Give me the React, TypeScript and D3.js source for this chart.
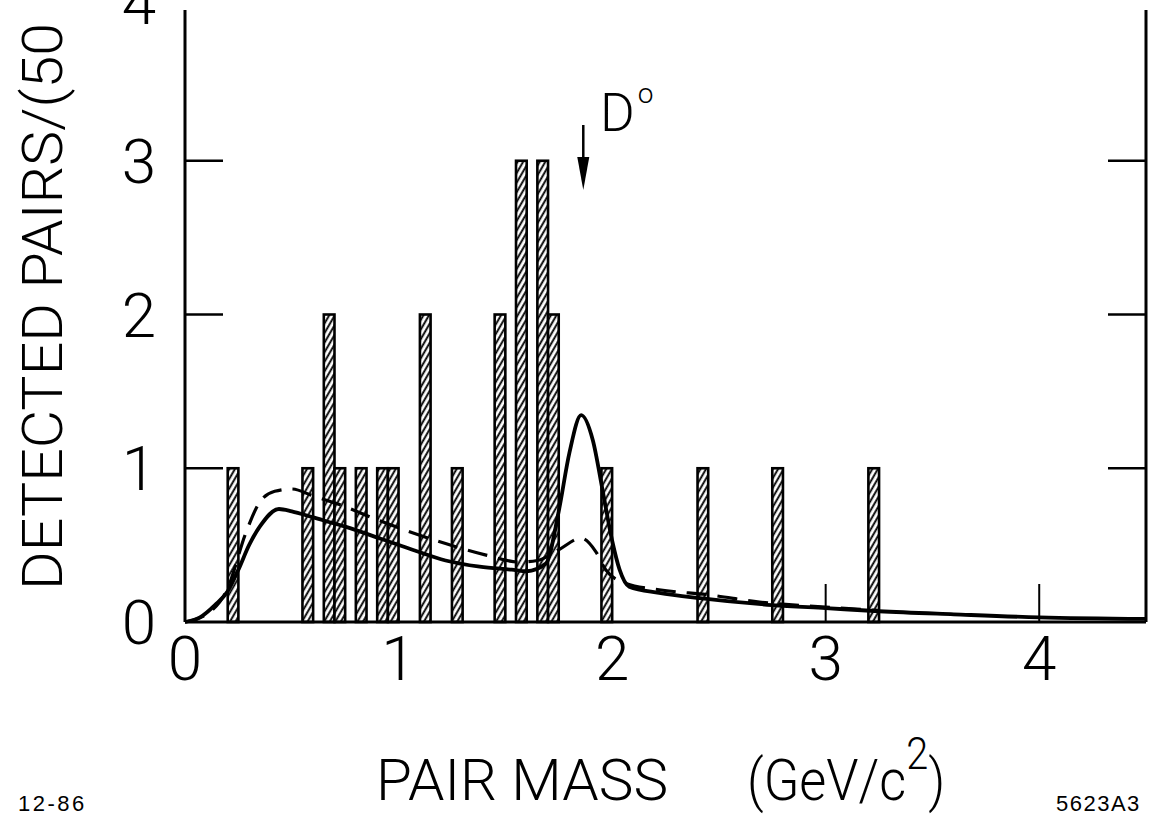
import { useEffect, useRef } from 'react'
import * as d3 from 'd3'

// histogram bins (lower edge in GeV/c^2, 50 MeV wide) and counts
const binStarts = [0.2, 0.55, 0.65, 0.7, 0.8, 0.9, 0.95, 1.1, 1.25, 1.45, 1.55, 1.65, 1.7, 1.95, 2.4, 2.75, 3.2]
const binCounts = [1, 1, 2, 1, 1, 1, 1, 2, 1, 2, 3, 3, 2, 1, 1, 1, 1]
const binWidth = 0.05

// solid curve (with D0 signal)
const solidMass = [0, 0.07, 0.14, 0.2, 0.25, 0.3, 0.35, 0.44, 0.5, 0.6, 0.75, 0.91, 1.065, 1.22, 1.38, 1.53, 1.6, 1.69, 1.75, 1.8, 1.855, 1.91, 1.955, 2.0, 2.035, 2.08, 2.22, 2.41, 2.75, 3.0, 3.25, 3.6, 4.0, 4.5]
const solidValue = [0, 0.03, 0.11, 0.2, 0.34, 0.5, 0.62, 0.735, 0.72, 0.68, 0.62, 0.545, 0.47, 0.4, 0.36, 0.34, 0.33, 0.38, 0.72, 1.1, 1.345, 1.18, 0.86, 0.53, 0.34, 0.23, 0.19, 0.155, 0.11, 0.09, 0.07, 0.05, 0.03, 0.02]

// dashed curve
const dashMass = [0, 0.1, 0.2, 0.285, 0.35, 0.42, 0.5, 0.6, 0.71, 0.91, 1.065, 1.22, 1.41, 1.565, 1.65, 1.75, 1.855, 1.925, 1.97, 2.065, 2.22, 2.46, 2.69, 3.0, 3.25]
const dashValue = [0, 0.05, 0.22, 0.58, 0.78, 0.85, 0.865, 0.82, 0.77, 0.66, 0.58, 0.51, 0.435, 0.39, 0.4, 0.47, 0.545, 0.455, 0.34, 0.25, 0.21, 0.175, 0.13, 0.097, 0.075]

const xTicks = [0, 1, 2, 3, 4]
const yTicks = [0, 1, 2, 3, 4]
const d0Mass = 1.865

export default function App() {
  const svgRef = useRef<SVGSVGElement>(null)

  useEffect(() => {
    if (!svgRef.current) return
    const svg = d3.select(svgRef.current)
    svg.selectAll('*').remove()

    const font = 'Roboto, "Liberation Sans", sans-serif'
    const plateFont = '"Liberation Sans", Arial, sans-serif'

    const x = d3.scaleLinear().domain([0, 4.5]).range([185, 1146])
    const y = d3.scaleLinear().domain([0, 4]).range([622, 7])

    // hatch pattern for the bars
    const defs = svg.append('defs')
    const pat = defs.append('pattern')
      .attr('id', 'hatch')
      .attr('patternUnits', 'userSpaceOnUse')
      .attr('width', 4.8)
      .attr('height', 10)
      .attr('patternTransform', 'rotate(30)')
    pat.append('rect').attr('width', 4.8).attr('height', 10).attr('fill', '#fff')
    pat.append('line')
      .attr('x1', 1.2).attr('y1', 0).attr('x2', 1.2).attr('y2', 10)
      .attr('stroke', '#000').attr('stroke-width', 1.9)

    const g = svg.append('g')

    // bars
    g.selectAll('rect.bar')
      .data(binStarts)
      .enter()
      .append('rect')
      .attr('class', 'bar')
      .attr('x', d => x(d))
      .attr('width', d => x(d + binWidth) - x(d))
      .attr('y', (d, i) => y(binCounts[i]))
      .attr('height', (d, i) => y(0) - y(binCounts[i]))
      .attr('fill', 'url(#hatch)')
      .attr('stroke', '#000')
      .attr('stroke-width', 2.6)

    // curves
    const line = d3.line<number>()
      .x(d => x(d))
      .curve(d3.curveMonotoneX)

    g.append('path')
      .attr('d', line.y((d, i) => y(dashValue[i]))(dashMass))
      .attr('fill', 'none')
      .attr('stroke', '#000')
      .attr('stroke-width', 3.2)
      .attr('stroke-dasharray', '20,11')

    g.append('path')
      .attr('d', line.y((d, i) => y(solidValue[i]))(solidMass))
      .attr('fill', 'none')
      .attr('stroke', '#000')
      .attr('stroke-width', 3.8)

    // frame
    const top = y(3.98)
    g.append('line').attr('x1', x(0)).attr('x2', x(0)).attr('y1', top).attr('y2', y(0))
      .attr('stroke', '#000').attr('stroke-width', 3)
    g.append('line').attr('x1', x(4.5)).attr('x2', x(4.5)).attr('y1', top).attr('y2', y(0))
      .attr('stroke', '#000').attr('stroke-width', 3)
    g.append('line').attr('x1', x(0)).attr('x2', x(4.5)).attr('y1', y(0)).attr('y2', y(0))
      .attr('stroke', '#000').attr('stroke-width', 3)

    // y ticks, inward on both sides
    yTicks.filter(t => t > 0 && t < 4).forEach(t => {
      g.append('line').attr('x1', x(0)).attr('x2', x(0) + 38).attr('y1', y(t)).attr('y2', y(t))
        .attr('stroke', '#000').attr('stroke-width', 2.5)
      g.append('line').attr('x1', x(4.5) - 38).attr('x2', x(4.5)).attr('y1', y(t)).attr('y2', y(t))
        .attr('stroke', '#000').attr('stroke-width', 2.5)
    })
    // x ticks, upward
    xTicks.filter(t => t > 0).forEach(t => {
      g.append('line').attr('x1', x(t)).attr('x2', x(t)).attr('y1', y(0)).attr('y2', y(0) - 38)
        .attr('stroke', '#000').attr('stroke-width', 2)
    })

    // tick labels (the 4 sits at the top edge, cut off as in the original)
    g.selectAll('text.ylab')
      .data(yTicks)
      .enter()
      .append('text')
      .attr('class', 'ylab')
      .attr('x', 139)
      .attr('y', d => d === 4 ? 24 : y(d) + 22)
      .attr('text-anchor', 'middle')
      .style('font-family', font)
      .style('font-weight', 300)
      .style('font-size', '62px')
      .text(d => d)

    g.selectAll('text.xlab')
      .data(xTicks)
      .enter()
      .append('text')
      .attr('class', 'xlab')
      .attr('x', d => x(d))
      .attr('y', 680)
      .attr('text-anchor', 'middle')
      .style('font-family', font)
      .style('font-weight', 300)
      .style('font-size', '62px')
      .text(d => d)

    // axis titles
    g.append('text')
      .attr('transform', 'translate(62, 590) rotate(-90)')
      .attr('textLength', 567)
      .attr('lengthAdjust', 'spacingAndGlyphs')
      .style('font-family', font)
      .style('font-weight', 300)
      .style('font-size', '56px')
      .text('DETECTED PAIRS/(50')

    g.append('text')
      .attr('x', 376)
      .attr('y', 800)
      .attr('textLength', 292)
      .attr('lengthAdjust', 'spacingAndGlyphs')
      .style('font-family', font)
      .style('font-weight', 300)
      .style('font-size', '58px')
      .text('PAIR MASS')

    const unit = g.append('text')
      .attr('transform', 'translate(747, 800) scale(0.9, 1)')
      .style('font-family', font)
      .style('font-weight', 300)
      .style('font-size', '58px')
    unit.append('tspan').text('(GeV/c')
    unit.append('tspan').attr('dy', -31).style('font-size', '44px').text('2')
    unit.append('tspan').attr('dy', 31).text(')')

    // D0 marker
    const ax = x(d0Mass)
    g.append('line').attr('x1', ax).attr('x2', ax).attr('y1', 125).attr('y2', 165)
      .attr('stroke', '#000').attr('stroke-width', 2.5)
    g.append('path')
      .attr('d', `M${ax - 6},157 L${ax + 6},157 L${ax},190 Z`)
      .attr('fill', '#000')
    const dl = g.append('text')
      .attr('x', 600)
      .attr('y', 131)
      .style('font-family', font)
      .style('font-weight', 300)
      .style('font-size', '53px')
    dl.append('tspan').text('D')
    dl.append('tspan').attr('dx', 3).attr('dy', -28).style('font-size', '28px').text('o')

    // plate labels
    g.append('text')
      .attr('x', 18).attr('y', 811)
      .style('font-family', plateFont)
      .style('font-size', '22px')
      .style('letter-spacing', '2.5px')
      .text('12-86')
    g.append('text')
      .attr('x', 1056).attr('y', 811)
      .style('font-family', plateFont)
      .style('font-size', '22px')
      .style('letter-spacing', '1.5px')
      .text('5623A3')
  }, [])

  return (
    <svg
      ref={svgRef}
      width={1150}
      height={816}
      style={{ position: 'absolute', left: 0, top: 0, background: '#fff' }}
    />
  )
}
